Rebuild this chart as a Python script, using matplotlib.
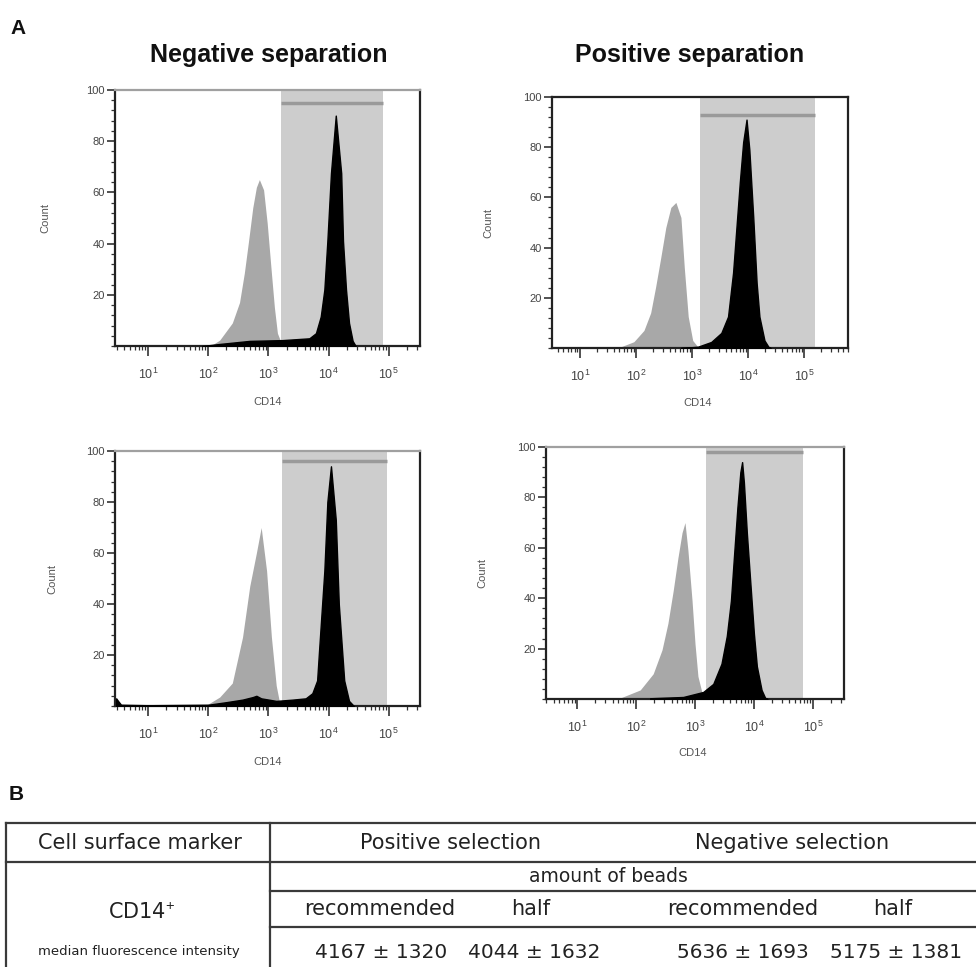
import matplotlib
matplotlib.use('Agg')
import matplotlib.pyplot as plt
import numpy as np
from matplotlib.ticker import FixedLocator, AutoMinorLocator, NullFormatter, FixedFormatter

plt.rcParams['font.family'] = ['Liberation Sans', 'DejaVu Sans']
plt.rcParams['mathtext.fontset'] = 'custom'
plt.rcParams['mathtext.rm'] = 'Liberation Sans'

# ---------------- data (log10 CD14 positions, counts) ----------------
# Panel 1: Negative separation, top
p1_gray_log = [1.86, 2.07, 2.19, 2.40, 2.52, 2.60, 2.67, 2.74, 2.80, 2.85, 2.92, 2.98, 3.05, 3.10, 3.15, 3.20, 3.24]
p1_gray_cnt = [0, 0.5, 2.3, 9, 17, 28.5, 41, 54, 62, 65, 61, 48, 28.5, 15, 5, 2, 0]
p1_black_log = [1.9, 2.19, 2.69, 3.23, 3.68, 3.79, 3.87, 3.93, 3.98, 4.04, 4.12,
                4.21, 4.24, 4.29, 4.34, 4.40, 4.45]
p1_black_cnt = [0, 0.8, 2, 2.3, 3, 5, 11.5, 22, 41, 67.5, 90, 67.5, 41, 22, 9, 2, 0]
p1_gate = (3.21, 4.90, 95)

# Panel 2: Positive separation, top
p2_gray_log = [1.60, 1.73, 1.96, 2.14, 2.26, 2.35, 2.44, 2.53, 2.62, 2.71, 2.80, 2.86, 2.93, 3.01, 3.10, 3.15]
p2_gray_cnt = [0, 0.5, 2.5, 7, 14, 24.5, 36, 48, 56, 58, 52, 32, 12.5, 3, 0.5, 0]
p2_black_log = [2.80, 3.10, 3.34, 3.52, 3.64, 3.73, 3.79, 3.85, 3.91, 3.97, 4.02, 4.09, 4.15, 4.20,
                4.29, 4.36, 4.40]
p2_black_cnt = [0, 0.5, 2.4, 6, 12.5, 30, 48, 66, 82, 91, 79, 52, 26, 12.5, 3, 0.5, 0]
p2_gate = (3.14, 5.20, 93)

# Panel 3: Negative separation, bottom
p3_gray_log = [1.70, 1.98, 2.19, 2.40, 2.57, 2.69, 2.80, 2.88, 2.97, 3.05, 3.13, 3.18, 3.24]
p3_gray_cnt = [0, 0.5, 3.5, 9, 27, 47, 60, 70, 53, 27, 8, 2, 0]
p3_black_log = [0.47, 0.50, 0.55, 1.0, 2.0, 2.3, 2.57, 2.74, 2.80, 2.88, 3.13, 3.4, 3.62, 3.73, 3.81,
                3.84, 3.93, 3.98, 4.04, 4.12, 4.17, 4.26, 4.34, 4.42]
p3_black_cnt = [3, 2, 0.5, 0.3, 0.5, 1.5, 2.5, 3.5, 4, 3, 2, 2.5, 3, 5, 10, 21, 53, 80, 94, 73, 40, 10, 2, 0]
p3_gate = (3.23, 4.97, 96)

# Panel 4: Positive separation, bottom
p4_gray_log = [1.60, 1.73, 2.07, 2.29, 2.44, 2.54, 2.63, 2.71, 2.78, 2.83, 2.88, 2.95, 3.00, 3.05, 3.12, 3.17, 3.20]
p4_gray_cnt = [0, 0.4, 3.6, 10, 19.5, 30, 43, 56, 66, 70, 59, 39, 22, 9, 2.4, 0.5, 0]
p4_black_log = [2.24, 2.80, 3.14, 3.31, 3.45, 3.54, 3.61, 3.66, 3.72, 3.77, 3.80, 3.83, 3.88, 3.94,
                4.00, 4.05, 4.13, 4.19, 4.23]
p4_black_cnt = [0.3, 0.8, 2.8, 6, 14, 25, 39, 56, 76, 90, 94, 86, 66, 46, 26, 13, 3.6, 0.5, 0]
p4_gate = (3.19, 4.83, 98)

x_tick_exps = [1, 2, 3, 4, 5]
y_ticks = [20, 40, 60, 80, 100]
x_label = "CD14"
y_label = "Count"
titles = ["Negative separation", "Positive separation"]

# table
tbl_header = ["Cell surface marker", "Positive selection", "Negative selection"]
tbl_sub = "amount of beads"
tbl_amounts = ["recommended", "half", "recommended", "half"]
tbl_values = ["4167 ± 1320", "4044 ± 1632", "5636 ± 1693", "5175 ± 1381"]
tbl_marker = "CD14$^{+}$"
tbl_metric = "median fluorescence intensity"

# ---------------- figure ----------------
W, H = 976, 967
fig = plt.figure(figsize=(W / 100, H / 100), dpi=100)


def ax_px(l, t, r, b):
    return fig.add_axes([l / W, 1 - b / H, (r - l) / W, (b - t) / H])


panels = [
    dict(box=(115, 90, 420, 346), xlim=(0.45, 5.52), g=(p1_gray_log, p1_gray_cnt),
         b=(p1_black_log, p1_black_cnt), gate=p1_gate, top='#a0a0a0', ylab_x=45, xlab=(268, 402)),
    dict(box=(552, 97, 848, 348), xlim=(0.50, 5.78), g=(p2_gray_log, p2_gray_cnt),
         b=(p2_black_log, p2_black_cnt), gate=p2_gate, top='#222222', ylab_x=488, xlab=(698, 403)),
    dict(box=(115, 451, 420, 706), xlim=(0.45, 5.52), g=(p3_gray_log, p3_gray_cnt),
         b=(p3_black_log, p3_black_cnt), gate=p3_gate, top='#a0a0a0', ylab_x=52, xlab=(268, 762)),
    dict(box=(546, 447, 844, 699), xlim=(0.47, 5.53), g=(p4_gray_log, p4_gray_cnt),
         b=(p4_black_log, p4_black_cnt), gate=p4_gate, top='#a0a0a0', ylab_x=482, xlab=(693, 753)),
]

for p in panels:
    l, t, r, b = p['box']
    ax = ax_px(l, t, r, b)
    ax.set_xscale('log')
    ax.set_xlim(10 ** p['xlim'][0], 10 ** p['xlim'][1])
    ax.set_ylim(0, 100)
    lo, hi, gy = p['gate']
    ax.axvspan(10 ** lo, 10 ** hi, color='#cdcdcd', lw=0, zorder=1)
    ax.hlines(gy, 10 ** lo, 10 ** hi, color='#9a9a9a', lw=2.5, zorder=1.5)
    gx, gc = p['g']
    ax.fill_between(10 ** np.array(gx), gc, 0, color='#a8a8a8', lw=0, zorder=2)
    bx, bc = p['b']
    ax.fill_between(10 ** np.array(bx), bc, 0, facecolor='black', edgecolor='black', lw=1.0, zorder=3)

    for s in ['left', 'bottom', 'right']:
        ax.spines[s].set_color('#222222')
        ax.spines[s].set_linewidth(1.6)
    ax.spines['top'].set_color(p['top'])
    ax.spines['top'].set_linewidth(1.6)

    ax.xaxis.set_major_locator(FixedLocator([10.0 ** e for e in x_tick_exps]))
    ax.xaxis.set_major_formatter(FixedFormatter([r'$\mathregular{10^{%d}}$' % e for e in x_tick_exps]))
    minors = [m * 10.0 ** e for e in range(0, 6) for m in range(2, 10)]
    ax.xaxis.set_minor_locator(FixedLocator(minors))
    ax.xaxis.set_minor_formatter(NullFormatter())
    ax.yaxis.set_major_locator(FixedLocator(y_ticks))
    ax.yaxis.set_minor_locator(AutoMinorLocator(5))
    ax.tick_params(axis='x', which='major', length=7, width=1.2, color='#333333',
                   labelsize=9, labelcolor='#444444', pad=8, direction='out')
    ax.tick_params(axis='x', which='minor', length=3, width=0.9, color='#333333', direction='out')
    ax.tick_params(axis='y', which='major', length=6, width=1.2, color='#333333',
                   labelsize=8, labelcolor='#444444', pad=1.5, direction='out')
    ax.tick_params(axis='y', which='minor', length=3, width=0.9, color='#333333', direction='out')
    ax.tick_params(top=False, right=False, which='both')

    fig.text(p['ylab_x'] / W, 1 - ((t + b) / 2) / H, y_label, rotation=90, ha='center', va='center',
             fontsize=8, color='#555555')
    fig.text(p['xlab'][0] / W, 1 - p['xlab'][1] / H, x_label,
             ha='center', va='center', fontsize=8, color='#555555')

# overlay for titles and table
ov = fig.add_axes([0, 0, 1, 1])
ov.set_xlim(0, W)
ov.set_ylim(H, 0)
ov.axis('off')
ov.patch.set_visible(False)

ov.text(10, 28, "A", fontsize=15, fontweight='bold', ha='left', va='center', color='#111111')
ov.text(269, 55, titles[0], fontsize=18, fontweight='bold', ha='center', va='center', color='#111111')
ov.text(690, 55, titles[1], fontsize=18, fontweight='bold', ha='center', va='center', color='#111111')
ov.text(9, 795, "B", fontsize=15, fontweight='bold', ha='left', va='center', color='#111111')

lc = '#3a3a3a'
lw = 1.6
ov.plot([6, W], [823, 823], color=lc, lw=lw)
ov.plot([6, W], [862, 862], color=lc, lw=lw)
ov.plot([270, W], [891, 891], color=lc, lw=lw)
ov.plot([270, W], [927, 927], color=lc, lw=lw)
ov.plot([6, 6], [823, H], color=lc, lw=lw)
ov.plot([270, 270], [823, H], color=lc, lw=lw)

tf = ['DejaVu Sans']
tc = '#222222'
ov.text(140, 843, tbl_header[0], fontsize=15, ha='center', va='center', color=tc, family=tf)
ov.text(450, 843, tbl_header[1], fontsize=15, ha='center', va='center', color=tc, family=tf)
ov.text(792, 843, tbl_header[2], fontsize=15, ha='center', va='center', color=tc, family=tf)
ov.text(608, 877, tbl_sub, fontsize=13.5, ha='center', va='center', color=tc, family=tf)
for xc, s in zip([380, 531, 743, 893], tbl_amounts):
    ov.text(xc, 909, s, fontsize=15, ha='center', va='center', color=tc, family=tf)
for xc, s in zip([381, 534, 743, 896], tbl_values):
    ov.text(xc, 952, s, fontsize=14.5, ha='center', va='center', color=tc, family=tf)
ov.text(142, 913, tbl_marker, fontsize=15, ha='center', va='center', color=tc, family=tf)
ov.text(139, 951, tbl_metric, fontsize=9.5, ha='center', va='center', color=tc, family=tf)

fig.savefig('out.png', dpi=100)
